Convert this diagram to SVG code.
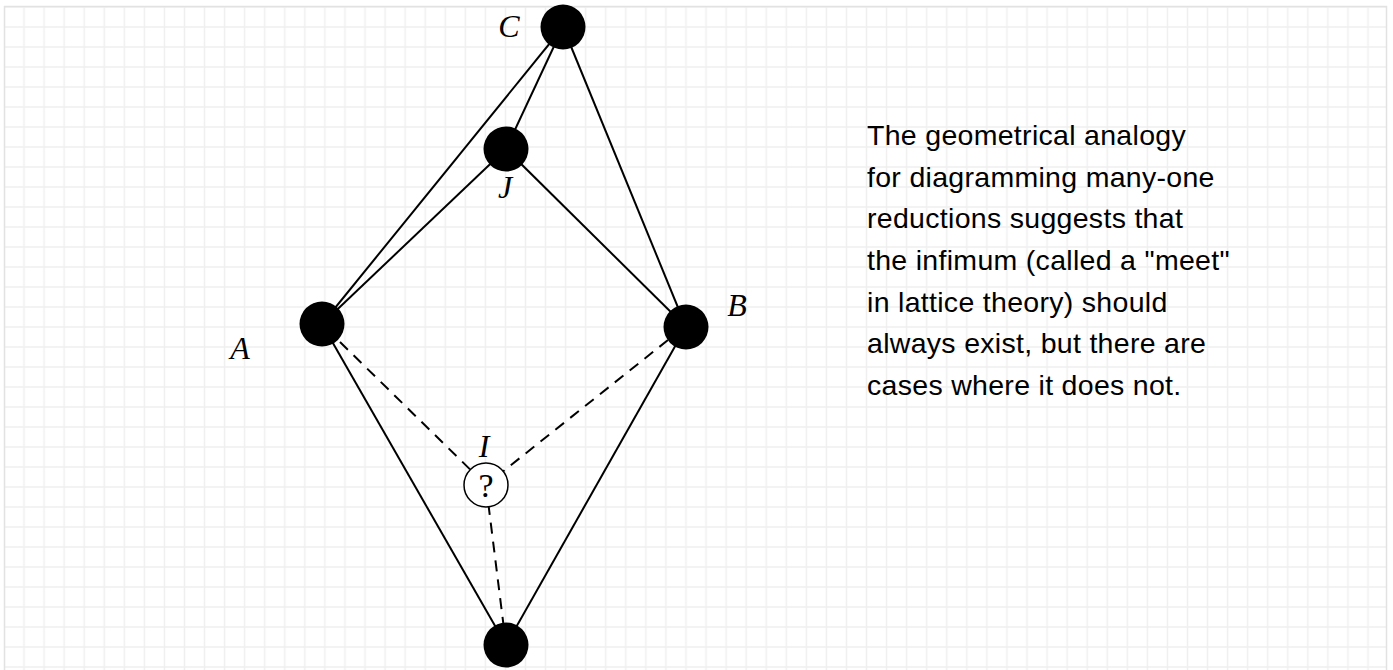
<svg xmlns="http://www.w3.org/2000/svg" width="1393" height="670" viewBox="0 0 1393 670">
  <defs>
    <pattern id="grid" patternUnits="userSpaceOnUse" x="13.97" y="17" width="20.06" height="20">
      <line x1="10.03" y1="0" x2="10.03" y2="20" stroke="#efefef" stroke-width="1.5"/>
      <line x1="0" y1="10" x2="20.06" y2="10" stroke="#efefef" stroke-width="1.5"/>
    </pattern>
    <style>
      .edge { stroke: #000; stroke-width: 2; fill: none; }
      .dash { stroke: #000; stroke-width: 2; fill: none; stroke-dasharray: 11 8; }
      .dot { fill: #000; }
      .open { fill: #fff; stroke: #000; stroke-width: 1.5; }
      .lbl { font-family: "Liberation Serif", "DejaVu Serif", serif; font-style: italic; font-size: 32px; fill: #000; text-anchor: middle; }
      .q { font-family: "Liberation Serif", "DejaVu Serif", serif; font-size: 34px; fill: #000; text-anchor: middle; }
      .note { font-family: "Liberation Sans", Arial, sans-serif; font-size: 28.5px; letter-spacing: 0.3px; fill: #000; }
    </style>
  </defs>
  <rect x="0" y="0" width="1393" height="670" fill="#fff"/>
  <rect x="4" y="6" width="1383" height="670" fill="url(#grid)"/>
  <rect x="4.5" y="6.5" width="1382" height="680" fill="none" stroke="#e2e2e2" stroke-width="1.5"/>

  <g id="connectors">
    <line class="edge" x1="563" y1="27" x2="322" y2="324"/>
    <line class="edge" x1="563" y1="27" x2="506" y2="149"/>
    <line class="edge" x1="563" y1="27" x2="686" y2="327"/>
    <line class="edge" x1="506" y1="149" x2="322" y2="324"/>
    <line class="edge" x1="506" y1="149" x2="686" y2="327"/>
    <line class="edge" x1="322" y1="324" x2="506" y2="645"/>
    <line class="edge" x1="686" y1="327" x2="506" y2="645"/>
    <line class="dash" x1="340" y1="342" x2="486" y2="485"/>
    <line class="dash" x1="668" y1="340" x2="486" y2="485"/>
    <line class="dash" x1="486" y1="485" x2="506" y2="645"/>
  </g>

  <g id="node-C">
    <circle class="dot" cx="563" cy="27" r="22.5"/>
    <text class="lbl" x="509" y="37">C</text>
  </g>
  <g id="node-J">
    <circle class="dot" cx="506" cy="149" r="22.5"/>
    <text class="lbl" x="505" y="198">J</text>
  </g>
  <g id="node-A">
    <circle class="dot" cx="322" cy="324" r="22.5"/>
    <text class="lbl" x="240" y="359">A</text>
  </g>
  <g id="node-B">
    <circle class="dot" cx="686" cy="327" r="22.5"/>
    <text class="lbl" x="737" y="316">B</text>
  </g>
  <g id="node-I">
    <circle class="open" cx="486" cy="485" r="22"/>
    <text class="lbl" x="484" y="457">I</text>
    <text class="q" x="486" y="497">?</text>
  </g>
  <g id="node-bottom">
    <circle class="dot" cx="506" cy="645" r="22.5"/>
  </g>

  <g id="note">
    <text class="note" x="867" y="145">The geometrical analogy</text>
    <text class="note" x="867" y="186.7">for diagramming many-one</text>
    <text class="note" x="867" y="228.3">reductions suggests that</text>
    <text class="note" x="867" y="270">the infimum (called a "meet"</text>
    <text class="note" x="867" y="311.7">in lattice theory) should</text>
    <text class="note" x="867" y="353.3">always exist, but there are</text>
    <text class="note" x="867" y="395">cases where it does not.</text>
  </g>
</svg>
